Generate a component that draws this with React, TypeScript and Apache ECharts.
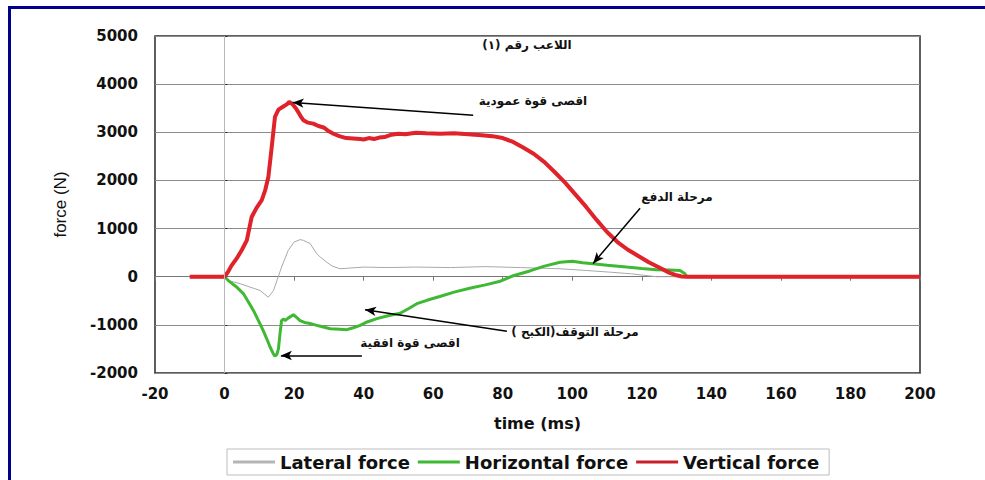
import React, { useEffect, useRef } from "react";
import * as echarts from "echarts";

// ---- data (time in ms, force in N) ----
const verticalTime = [-10, 0, 1, 2, 3.5, 5, 6.4, 7.8, 9.2, 10.7, 11.7, 12.6, 13.5, 14.5, 15.5, 17, 17.9, 18.6, 19.5, 20.5, 21.2, 22, 22.7, 24, 25.5, 27, 28.5, 30, 31.3, 33, 35, 37, 39, 40, 41.5, 43, 44.5, 46, 48, 50, 52, 55, 58, 62, 66, 70, 74, 77, 80, 83, 86, 89, 92, 95, 98, 101, 104, 107, 110, 113, 116, 119, 122, 125, 128, 130, 131.5, 133, 200];
const verticalForce = [0, 0, 100, 230, 380, 560, 755, 1240, 1430, 1590, 1800, 2070, 2650, 3320, 3470, 3540, 3580, 3630, 3590, 3500, 3420, 3320, 3250, 3200, 3180, 3130, 3100, 3020, 2970, 2920, 2880, 2870, 2860, 2850, 2880, 2860, 2890, 2900, 2950, 2970, 2960, 2990, 2980, 2970, 2980, 2960, 2940, 2920, 2880, 2800, 2680, 2550, 2380, 2170, 1950, 1700, 1450, 1180, 930, 720, 560, 430, 300, 190, 80, 30, 5, 0, 0];

const horizontalTime = [-10, 0, 1.1, 2.3, 3.5, 5.4, 7, 8.3, 10.2, 11.1, 12.2, 13.1, 14, 14.5, 15, 15.5, 16, 16.4, 17, 17.4, 18.3, 19.8, 20.8, 21.7, 23, 24.6, 27, 30.4, 33.2, 35.2, 37, 39, 41, 43.8, 47, 50.5, 53, 55.3, 58.2, 61.9, 66, 70.5, 75, 79, 83, 87.8, 92, 96.5, 100, 103, 106, 110, 115.6, 120, 124.2, 128, 131, 132.4, 133, 200];
const horizontalForce = [0, 0, -80, -150, -215, -350, -540, -700, -980, -1115, -1300, -1460, -1600, -1650, -1620, -1500, -1150, -910, -880, -910, -860, -790, -850, -910, -950, -970, -1020, -1080, -1090, -1100, -1060, -1010, -940, -870, -810, -760, -660, -560, -490, -410, -320, -240, -170, -100, 20, 120, 220, 300, 320, 290, 270, 240, 200, 170, 145, 140, 130, 60, 0, 0];

const lateralTime = [-10, 0, 1.1, 4.5, 7.3, 10.2, 12.6, 14.1, 15.2, 16.4, 18.3, 20, 21.7, 22.7, 24.6, 26.5, 27.5, 29.4, 31, 33.2, 36, 40, 46.7, 55, 65, 75, 85, 96.5, 104, 110.8, 117, 124.2, 200];
const lateralForce = [0, 0, -80, -145, -215, -285, -425, -285, -50, 200, 545, 720, 770, 755, 690, 480, 410, 300, 220, 165, 180, 200, 190, 200, 190, 210, 190, 165, 130, 95, 60, 0, 0];

const xTicks = { min: -20, max: 200, interval: 20 };
const yTicks = { min: -2000, max: 5000, interval: 1000 };

const seriesNames = ["Lateral force", "Horizontal force", "Vertical force"];

const titleText = "اللاعب رقم (١)";
// annotation arrows: [fromTime, fromForce, toTime, toForce]
const arrowVerticalPeak = [71.5, 3353, 19.6, 3620];
const arrowPush = [119.5, 1420, 106, 276];
const arrowBraking = [81.2, -1131, 40.4, -686];
const arrowHorizontalPeak = [39.5, -1636, 16.2, -1636];
const labelVerticalPeak = "اقصى قوة عمودية";
const labelPush = "مرحلة الدفع";
const labelBraking = "مرحلة التوقف(الكبح )";
const labelHorizontalPeak = "اقصى قوة افقية";

const zip = (t: number[], v: number[]) => t.map((x, i) => [x, v[i]]);
const arrow = (a: number[]) => [{ coord: [a[0], a[1]] }, { coord: [a[2], a[3]] }];

const AR_FONT = 'bold 12px "DejaVu Sans"';

export default function App() {
  const ref = useRef<HTMLDivElement>(null);
  useEffect(() => {
    if (!ref.current) return;
    const chart = echarts.init(ref.current, undefined, { renderer: "svg" });
    const tickFont = { fontFamily: "DejaVu Sans", fontWeight: "bold" as const, fontSize: 15, color: "#111" };
    chart.setOption({
      animation: false,
      backgroundColor: "#fff",
      grid: {
        left: 155,
        right: 65,
        top: 36,
        bottom: 107,
        show: true,
        borderColor: "#2a2a2a",
        borderWidth: 1.5,
        backgroundColor: "transparent",
      },
      xAxis: [
        {
          type: "value",
          ...xTicks,
          position: "bottom",
          axisLine: { show: false, onZero: false },
          axisTick: { show: false },
          splitLine: { show: false },
          axisLabel: { ...tickFont, margin: 13, formatter: (v: number) => String(v) },
          name: "time (ms)",
          nameLocation: "middle",
          nameGap: 42,
          nameTextStyle: { fontFamily: "DejaVu Sans", fontWeight: "bold", fontSize: 16, color: "#111" },
        },
        {
          type: "value",
          ...xTicks,
          position: "bottom",
          axisLine: { show: true, onZero: true, lineStyle: { color: "#777", width: 1 } },
          axisTick: { show: true, length: 4, lineStyle: { color: "#777" } },
          axisLabel: { show: false },
          splitLine: { show: false },
        },
      ],
      yAxis: {
        type: "value",
        ...yTicks,
        axisLine: { show: false },
        axisTick: { show: true, inside: true, length: 3, lineStyle: { color: "#333" } },
        splitLine: { show: true, lineStyle: { color: "#8c8c8c", width: 1 } },
        axisLabel: { ...tickFont, margin: 17, formatter: (v: number) => String(v) },
        name: "force (N)",
        nameLocation: "middle",
        nameGap: 86,
        nameRotate: 90,
        nameTextStyle: { fontFamily: "Liberation Sans", fontSize: 17, color: "#111" },
      },
      legend: {
        data: seriesNames.map((n) => ({ name: n, icon: "rect" })),
        left: 227,
        top: 449,
        width: 640,
        padding: [4, 10, 4, 6],
        itemGap: 8,
        itemWidth: 42,
        itemHeight: 3,
        backgroundColor: "#fff",
        borderColor: "#bdbdbd",
        borderWidth: 1,
        textStyle: { fontFamily: "DejaVu Sans", fontWeight: "bold", fontSize: 18, color: "#111" },
      },
      series: [
        {
          name: seriesNames[0],
          type: "line",
          data: zip(lateralTime, lateralForce),
          symbol: "none",
          lineStyle: { color: "#a9a9a9", width: 1 },
          itemStyle: { color: "#b5b5b5" },
          markLine: {
            silent: true,
            symbol: ["none", "none"],
            label: { show: false },
            lineStyle: { color: "#b8b8b8", width: 1, type: "solid" },
            data: [{ xAxis: 0 }],
          },
          z: 2,
        },
        {
          name: seriesNames[1],
          type: "line",
          data: zip(horizontalTime, horizontalForce),
          symbol: "none",
          lineStyle: { color: "#3fb834", width: 3 },
          itemStyle: { color: "#3fb834" },
          z: 3,
        },
        {
          name: seriesNames[2],
          type: "line",
          data: zip(verticalTime, verticalForce),
          symbol: "none",
          lineStyle: { color: "#e0222b", width: 4 },
          itemStyle: { color: "#c8202a" },
          markLine: {
            silent: true,
            symbol: ["none", "arrow"],
            symbolSize: [7, 11],
            label: { show: false },
            lineStyle: { color: "#000", width: 1.5, type: "solid" },
            data: [arrow(arrowVerticalPeak), arrow(arrowPush), arrow(arrowBraking), arrow(arrowHorizontalPeak)],
          },
          z: 4,
        },
      ],
      graphic: [
        { type: "rect", shape: { x: 8, y: 6, width: 977, height: 3 }, style: { fill: "#00008c" }, z: 100 },
        { type: "rect", shape: { x: 8, y: 6, width: 3, height: 474 }, style: { fill: "#00008c" }, z: 100 },
        { type: "text", x: 527, y: 45, style: { text: titleText, font: AR_FONT, fill: "#111", textAlign: "center", textVerticalAlign: "middle" }, z: 100 },
        { type: "text", x: 533, y: 101, style: { text: labelVerticalPeak, font: AR_FONT, fill: "#111", textAlign: "center", textVerticalAlign: "middle" }, z: 100 },
        { type: "text", x: 677, y: 197, style: { text: labelPush, font: AR_FONT, fill: "#111", textAlign: "center", textVerticalAlign: "middle" }, z: 100 },
        { type: "text", x: 575, y: 332, style: { text: labelBraking, font: AR_FONT, fill: "#111", textAlign: "center", textVerticalAlign: "middle" }, z: 100 },
        { type: "text", x: 410, y: 343, style: { text: labelHorizontalPeak, font: AR_FONT, fill: "#111", textAlign: "center", textVerticalAlign: "middle" }, z: 100 },
      ],
    });
    return () => chart.dispose();
  }, []);
  return (
    <div style={{ position: "absolute", left: 0, top: 0, width: 985, height: 480, overflow: "hidden" }}>
      <div ref={ref} style={{ width: 985, height: 480 }} />
    </div>
  );
}
